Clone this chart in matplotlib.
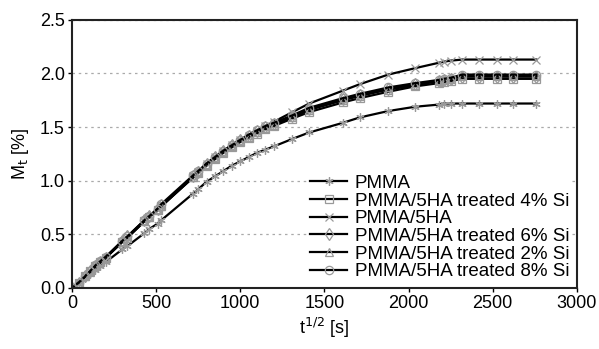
import matplotlib.pyplot as plt

plt.rcParams["font.family"] = ["Liberation Sans", "DejaVu Sans"]

# t^(1/2) values shared by all series
t_sqrt = [0, 40, 80, 110, 140, 170, 200, 300, 330, 430, 460, 510, 530, 720, 750,
          800, 850, 900, 950, 1000, 1050, 1100, 1150, 1200, 1310, 1410, 1610,
          1710, 1880, 2040, 2180, 2210, 2250, 2320, 2420, 2525, 2620, 2760]

pmma = [0, 0.04, 0.09, 0.13, 0.17, 0.20, 0.24, 0.36, 0.39, 0.51, 0.55, 0.60, 0.63,
        0.88, 0.92, 0.99, 1.04, 1.09, 1.14, 1.18, 1.22, 1.26, 1.29, 1.32, 1.39,
        1.45, 1.54, 1.59, 1.65, 1.69, 1.71, 1.72, 1.72, 1.72, 1.72, 1.72, 1.72, 1.72]

si4 = [0, 0.05, 0.11, 0.16, 0.20, 0.24, 0.28, 0.43, 0.47, 0.62, 0.66, 0.73, 0.76,
       1.03, 1.07, 1.14, 1.20, 1.26, 1.31, 1.36, 1.40, 1.44, 1.48, 1.51, 1.58,
       1.64, 1.73, 1.77, 1.83, 1.88, 1.91, 1.92, 1.93, 1.95, 1.95, 1.95, 1.95, 1.95]

ha5 = [0, 0.05, 0.11, 0.16, 0.20, 0.24, 0.28, 0.43, 0.47, 0.62, 0.66, 0.73, 0.76,
       1.04, 1.08, 1.16, 1.22, 1.28, 1.33, 1.38, 1.42, 1.46, 1.51, 1.55, 1.64,
       1.72, 1.84, 1.90, 1.99, 2.05, 2.10, 2.11, 2.12, 2.13, 2.13, 2.13, 2.13, 2.13]

si6 = [0, 0.05, 0.11, 0.16, 0.20, 0.24, 0.28, 0.44, 0.48, 0.63, 0.67, 0.74, 0.77,
       1.04, 1.08, 1.16, 1.22, 1.28, 1.33, 1.38, 1.42, 1.46, 1.50, 1.53, 1.60,
       1.67, 1.76, 1.80, 1.86, 1.90, 1.93, 1.94, 1.95, 1.97, 1.97, 1.97, 1.97, 1.97]

si2 = [0, 0.05, 0.11, 0.15, 0.20, 0.24, 0.28, 0.43, 0.47, 0.62, 0.66, 0.73, 0.76,
       1.03, 1.08, 1.15, 1.21, 1.27, 1.32, 1.37, 1.41, 1.45, 1.49, 1.52, 1.59,
       1.66, 1.75, 1.79, 1.85, 1.89, 1.93, 1.94, 1.95, 1.98, 1.98, 1.98, 1.98, 1.98]

si8 = [0, 0.05, 0.11, 0.16, 0.21, 0.25, 0.29, 0.44, 0.48, 0.63, 0.67, 0.74, 0.78,
       1.05, 1.09, 1.16, 1.22, 1.28, 1.33, 1.38, 1.43, 1.47, 1.51, 1.54, 1.61,
       1.68, 1.77, 1.81, 1.87, 1.91, 1.94, 1.95, 1.96, 1.99, 1.99, 1.99, 1.99, 1.99]

series = [
    ("PMMA", pmma, (6, 2, 0)),
    ("PMMA/5HA treated 4% Si", si4, "s"),
    ("PMMA/5HA", ha5, "x"),
    ("PMMA/5HA treated 6% Si", si6, "d"),
    ("PMMA/5HA treated 2% Si", si2, "^"),
    ("PMMA/5HA treated 8% Si", si8, "o"),
]

fig = plt.figure(figsize=(5.99, 3.49), dpi=100)
ax = fig.add_axes([0.120, 0.175, 0.843, 0.768])

for label, values, marker in series:
    ax.plot(t_sqrt, values, color="black", linewidth=1.6, marker=marker,
            markersize=6, markerfacecolor="none", markeredgecolor="#999999",
            markeredgewidth=0.9, label=label)

ax.set_xlim(0, 3000)
ax.set_ylim(0, 2.5)
ax.set_xticks([0, 500, 1000, 1500, 2000, 2500, 3000])
ax.set_yticks([0.0, 0.5, 1.0, 1.5, 2.0, 2.5])
ax.set_yticklabels(["0.0", "0.5", "1.0", "1.5", "2.0", "2.5"])
ax.tick_params(labelsize=13, direction="out", length=3, width=1, pad=2)
ax.yaxis.grid(True, linestyle=(0, (2, 3)), color="#aaaaaa", linewidth=0.9)
ax.set_axisbelow(True)
for s in ax.spines.values():
    s.set_linewidth(1.5)
    s.set_color("#222222")

ax.set_xlabel(r"t$^{1/2}$ [s]", fontsize=13, labelpad=3)
ax.set_ylabel(r"M$_\mathrm{t}$ [%]", fontsize=13, labelpad=6)

leg = ax.legend(loc="lower right", fontsize=13.5, frameon=True, framealpha=1,
                edgecolor="white", labelspacing=0.03, handlelength=2.0,
                handletextpad=0.4, borderaxespad=0.3, borderpad=0.1)
leg.get_frame().set_linewidth(0)

fig.savefig("out.png", dpi=100)
